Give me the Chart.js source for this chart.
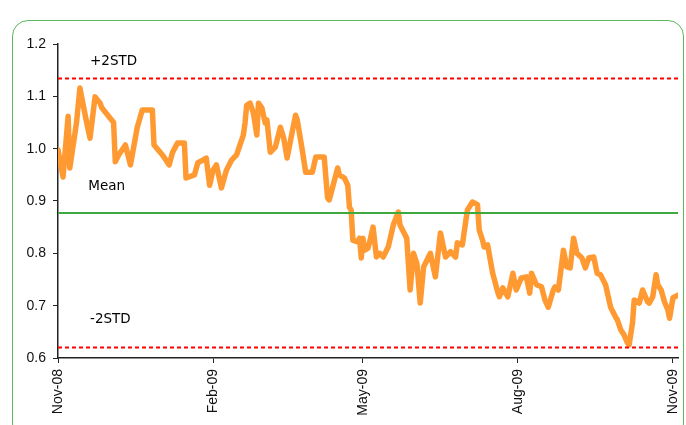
<!DOCTYPE html>
<html>
<head>
<meta charset="utf-8">
<script src="https://cdn.jsdelivr.net/npm/chart.js@4/dist/chart.umd.min.js"></script>
<style>
  html, body { margin: 0; padding: 0; background: #fff; }
  #wrap { position: relative; width: 686px; height: 425px; overflow: hidden; }
  #frame { position: absolute; left: 12px; top: 20px; width: 672px; height: 420px;
           border: 1.5px solid #5DB85D; border-radius: 16px; box-sizing: border-box; }
  canvas { position: absolute; left: 0; top: 0; }
</style>
</head>
<body>
<div id="wrap">
  <div id="frame"></div>
  <canvas id="c" width="686" height="425"></canvas>
</div>
<script>
// Days since 1 Nov 2008
const days = [0,3,6,7,11,13,17,19,22,25,26,28,33,34,36,40,43,47,50,56,57,62,66,68,71,75,76,81,83,86,88,90,92,94,97,100,103,106,108,110,111,112,114,116,118,119,121,123,124,126,129,132,134,136,139,141,142,145,147,151,153,158,160,161,166,167,170,172,173,174,175,178,179,180,181,182,184,185,187,189,191,193,196,199,202,203,207,209,211,213,215,217,221,224,227,230,233,236,237,240,243,246,249,250,252,253,255,258,261,262,264,267,270,272,275,278,280,281,284,287,289,291,294,295,297,300,302,304,306,308,311,313,315,318,320,322,325,326,328,331,332,334,336,338,339,341,342,345,347,350,351,353,355,356,358,360,362,363,365,368];
const values = [0.998,0.946,1.062,0.963,1.05,1.116,1.05,1.02,1.099,1.087,1.078,1.07,1.05,0.975,0.988,1.007,0.969,1.04,1.074,1.074,1.007,0.988,0.969,0.993,1.011,1.011,0.944,0.95,0.973,0.978,0.982,0.93,0.959,0.969,0.925,0.959,0.978,0.988,1.007,1.026,1.049,1.083,1.087,1.068,1.026,1.087,1.078,1.049,1.055,0.993,1.003,1.041,1.02,0.982,1.032,1.064,1.055,0.997,0.955,0.955,0.984,0.984,0.906,0.902,0.963,0.95,0.944,0.93,0.888,0.883,0.825,0.822,0.829,0.791,0.829,0.806,0.81,0.822,0.85,0.793,0.8,0.793,0.812,0.854,0.879,0.854,0.829,0.73,0.8,0.781,0.705,0.774,0.8,0.755,0.839,0.793,0.803,0.793,0.82,0.816,0.883,0.898,0.893,0.845,0.825,0.812,0.816,0.762,0.726,0.717,0.734,0.717,0.762,0.73,0.753,0.755,0.724,0.762,0.74,0.736,0.711,0.697,0.73,0.736,0.73,0.806,0.774,0.772,0.829,0.8,0.791,0.772,0.791,0.793,0.762,0.759,0.74,0.726,0.697,0.678,0.673,0.654,0.644,0.629,0.625,0.667,0.711,0.705,0.73,0.707,0.705,0.717,0.759,0.74,0.73,0.707,0.692,0.676,0.715,0.72];

const meanValue = 0.877;
const plus2Std = 1.134;
const minus2Std = 0.62;

const tickDays = [0, 92, 181, 273, 365];
const tickLabels = ['Nov-08', 'Feb-09', 'May-09', 'Aug-09', 'Nov-09'];
const yTicks = [0.6, 0.7, 0.8, 0.9, 1.0, 1.1, 1.2];

const xMin = 0, xMax = 368;
const refLine = v => [{x: xMin, y: v}, {x: xMax, y: v}];

const refLabels = [
  {text: '+2STD', day: 19, value: 1.166},
  {text: 'Mean', day: 18, value: 0.927},
  {text: '-2STD', day: 19, value: 0.674}
];

const labelPlugin = {
  id: 'refLabels',
  afterDatasetsDraw(chart) {
    const {ctx, scales: {x, y}} = chart;
    ctx.save();
    ctx.font = '13.5px "DejaVu Sans"';
    ctx.fillStyle = '#000';
    ctx.textAlign = 'left';
    ctx.textBaseline = 'middle';
    refLabels.forEach(l => ctx.fillText(l.text, x.getPixelForValue(l.day), y.getPixelForValue(l.value)));
    ctx.restore();
  }
};

new Chart(document.getElementById('c'), {
  type: 'line',
  data: {
    datasets: [
      { data: refLine(plus2Std), borderColor: '#FF0000', borderWidth: 2, borderDash: [4, 3], pointRadius: 0 },
      { data: refLine(minus2Std), borderColor: '#FF0000', borderWidth: 2, borderDash: [4, 3], pointRadius: 0 },
      { data: refLine(meanValue), borderColor: '#3FA83F', borderWidth: 2, pointRadius: 0 },
      { data: days.map((d, i) => ({x: d, y: values[i]})), borderColor: '#FF9A33', borderWidth: 5.5,
        pointRadius: 0, tension: 0, borderJoinStyle: 'round', borderCapStyle: 'round' }
    ]
  },
  options: {
    responsive: false,
    animation: false,
    events: [],
    layout: { padding: { left: 0, right: 8, top: 44, bottom: 0 } },
    plugins: { legend: { display: false }, tooltip: { enabled: false } },
    scales: {
      x: {
        type: 'linear', min: xMin, max: xMax,
        afterBuildTicks: s => { s.ticks = tickDays.map(v => ({value: v})); },
        afterFit: s => { s.height = 67; s.paddingLeft = 0; s.paddingRight = 0; },
        ticks: {
          autoSkip: false, maxRotation: 90, minRotation: 90, padding: 6,
          color: '#111', font: { family: '"Liberation Sans", Arial', size: 14 },
          callback: v => tickLabels[tickDays.indexOf(v)]
        },
        grid: { drawOnChartArea: false, drawTicks: true, tickLength: 5, color: '#222', lineWidth: 1 },
        border: { display: true, color: '#222', width: 1.5 }
      },
      y: {
        type: 'linear', min: 0.6, max: 1.2,
        afterBuildTicks: s => { s.ticks = yTicks.map(v => ({value: v})); },
        afterFit: s => { s.width = 58; s.paddingTop = 0; s.paddingBottom = 0; },
        ticks: {
          padding: 7, color: '#111', font: { family: '"Liberation Sans", Arial', size: 14 },
          callback: v => v.toFixed(1)
        },
        grid: { drawOnChartArea: false, drawTicks: true, tickLength: 5, color: '#222', lineWidth: 1 },
        border: { display: true, color: '#222', width: 1.5 }
      }
    }
  },
  plugins: [labelPlugin]
});
</script>
</body>
</html>
